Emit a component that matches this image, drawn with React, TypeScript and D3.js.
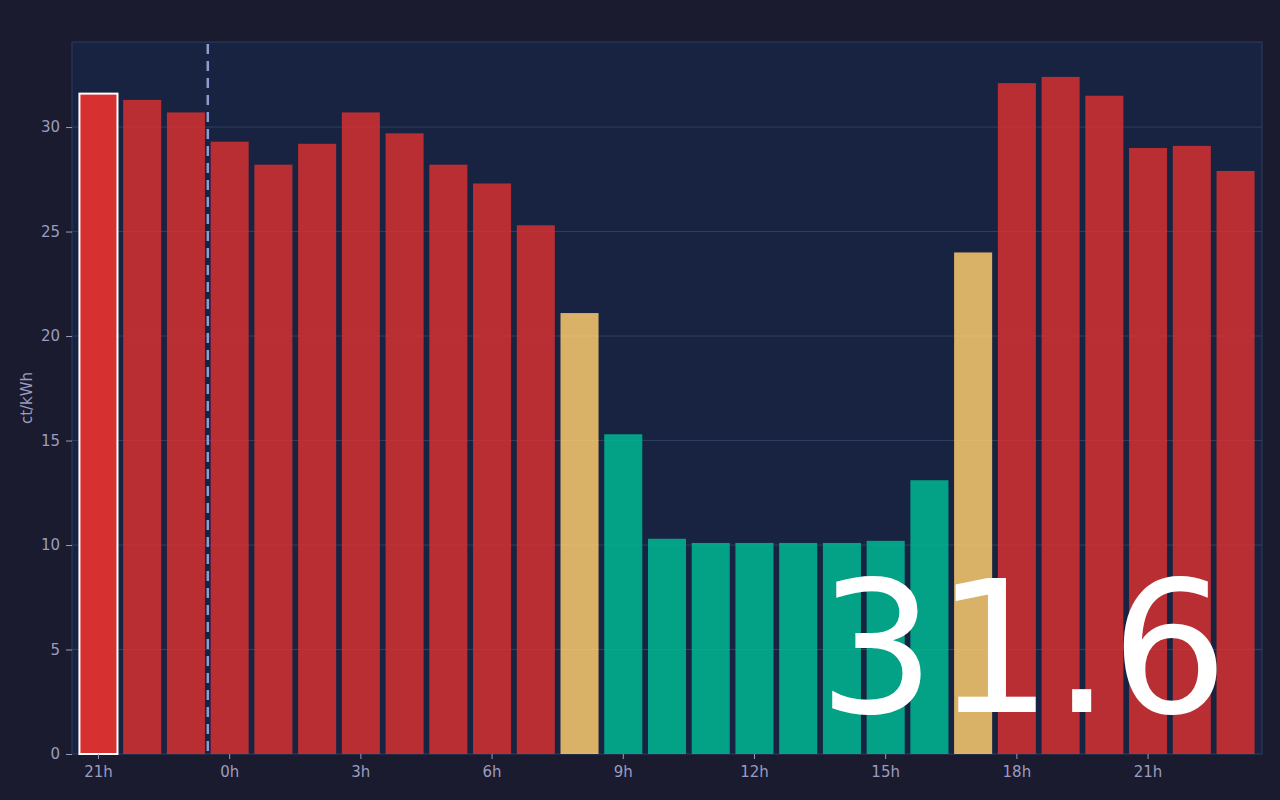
import React, { useEffect, useRef } from 'react';
import * as d3 from 'd3';

// hourly price, starting at 21h of the previous day
const hours = [21, 22, 23, 0, 1, 2, 3, 4, 5, 6, 7, 8, 9, 10, 11, 12, 13, 14, 15, 16, 17, 18, 19, 20, 21, 22, 23];
const prices = [31.6, 31.3, 30.7, 29.3, 28.2, 29.2, 30.7, 29.7, 28.2, 27.3, 25.3, 21.1, 15.3, 10.3, 10.1, 10.1, 10.1, 10.1, 10.2, 13.1, 24.0, 32.1, 32.4, 31.5, 29.0, 29.1, 27.9];
// price level of each hour: high / mid / low
const levels = ['high', 'high', 'high', 'high', 'high', 'high', 'high', 'high', 'high', 'high', 'high', 'mid', 'low', 'low', 'low', 'low', 'low', 'low', 'low', 'low', 'mid', 'high', 'high', 'high', 'high', 'high', 'high'];
const yTicks = [0, 5, 10, 15, 20, 25, 30];
const currentIndex = 0;
const midnightIndex = 3;

const levelColor: Record<string, string> = {
  high: '#d63031',
  mid: '#fdcb6e',
  low: '#00b894',
};

const W = 1280;
const H = 800;
const margin = { top: 42, right: 18, bottom: 46, left: 72 };
const textColor = '#9a9cc0';
const font = '"DejaVu Sans", sans-serif';

const App: React.FC = () => {
  const ref = useRef<SVGSVGElement>(null);

  useEffect(() => {
    const svg = d3.select(ref.current);
    svg.selectAll('*').remove();

    const x0 = margin.left;
    const x1 = W - margin.right;
    const y0 = H - margin.bottom;
    const y1 = margin.top;

    const x = d3.scaleBand<number>()
      .domain(d3.range(prices.length))
      .range([x0, x1])
      .paddingInner(0.13)
      .paddingOuter(0.17);

    const y = d3.scaleLinear().domain([0, 34.07]).range([y0, y1]);

    svg.append('rect').attr('width', W).attr('height', H).attr('fill', '#1a1b2e');

    // plot area
    svg.append('rect')
      .attr('x', x0).attr('y', y1)
      .attr('width', x1 - x0).attr('height', y0 - y1)
      .attr('fill', '#172340')
      .attr('stroke', '#2d3d60')
      .attr('stroke-width', 1);

    // grid
    svg.append('g')
      .selectAll('line')
      .data(yTicks.filter(t => t > 0))
      .enter()
      .append('line')
      .attr('x1', x0).attr('x2', x1)
      .attr('y1', d => y(d)).attr('y2', d => y(d))
      .attr('stroke', '#2e3f63')
      .attr('stroke-width', 1);

    // bars
    svg.append('g')
      .selectAll('rect')
      .data(prices)
      .enter()
      .append('rect')
      .attr('x', (_, i) => x(i)!)
      .attr('y', d => y(d))
      .attr('width', x.bandwidth())
      .attr('height', d => y0 - y(d))
      .attr('fill', (_, i) => levelColor[levels[i]])
      .attr('fill-opacity', (_, i) => (i === currentIndex ? 1 : 0.85))
      .attr('stroke', (_, i) => (i === currentIndex ? '#ffffff' : 'none'))
      .attr('stroke-width', 2);

    // midnight marker
    const mx = x(midnightIndex)! - (x.step() * x.paddingInner()) / 2;
    svg.append('line')
      .attr('x1', mx).attr('x2', mx)
      .attr('y1', y1 + 2).attr('y2', y0)
      .attr('stroke', '#8e9cd4')
      .attr('stroke-width', 2.5)
      .attr('stroke-dasharray', '10,7');

    // y axis
    const yAxis = svg.append('g')
      .attr('transform', `translate(${x0},0)`)
      .call(d3.axisLeft(y).tickValues(yTicks).tickSize(6).tickPadding(6));
    yAxis.select('.domain').remove();

    // x axis
    const xTickIdx = d3.range(prices.length).filter(i => hours[i] % 3 === 0);
    const xAxis = svg.append('g')
      .attr('transform', `translate(0,${y0})`)
      .call(d3.axisBottom(x).tickValues(xTickIdx).tickFormat(i => `${hours[i as number]}h`).tickSize(5).tickPadding(7));
    xAxis.select('.domain').remove();

    svg.selectAll('.tick line').attr('stroke', textColor);
    svg.selectAll('.tick text')
      .attr('fill', textColor)
      .style('font-family', font)
      .style('font-size', '15px');

    svg.append('text')
      .attr('transform', `translate(31.5,${(y0 + y1) / 2}) rotate(-90)`)
      .attr('text-anchor', 'middle')
      .attr('fill', textColor)
      .style('font-family', font)
      .style('font-size', '15px')
      .text('ct/kWh');

    // current price
    svg.append('text')
      .attr('x', 1228)
      .attr('y', 712)
      .attr('text-anchor', 'end')
      .attr('fill', '#ffffff')
      .style('font-family', font)
      .style('font-size', '184px')
      .text(prices[currentIndex].toFixed(1));
  }, []);

  return (
    <div style={{ position: 'fixed', left: 0, top: 0, width: W, height: H }}>
      <svg ref={ref} width={W} height={H} style={{ display: 'block' }} />
    </div>
  );
};

export default App;
